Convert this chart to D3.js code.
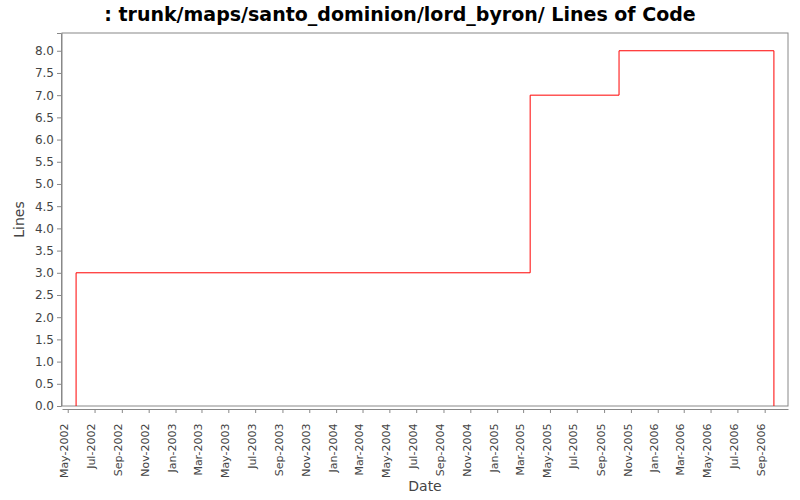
<!DOCTYPE html>
<html><head><meta charset="utf-8">
<script src="https://cdn.jsdelivr.net/npm/d3@7"></script>
<style>body{margin:0;background:#fff}text{font-family:"DejaVu Sans",sans-serif}</style>
</head><body><svg id="c" width="800" height="500"></svg>
<script>
const dates = ["2002-05-20","2005-03-17","2005-10-05","2006-09-22"];
const values = [3,7,8,0];
const yTicks = [0,0.5,1,1.5,2,2.5,3,3.5,4,4.5,5,5.5,6,6.5,7,7.5,8];
const title = ": trunk/maps/santo_dominion/lord_byron/ Lines of Code";

const svg = d3.select("#c");
const L=62,R=788,T=33,B=406;
const parse=d3.timeParse("%Y-%m-%d");
const x=d3.scaleTime().domain([parse("2002-04-18"),parse("2006-10-24")]).range([L,R]);
const y=d3.scaleLinear().domain([0,8.4]).range([B,T]);

svg.append("text").attr("x",400).attr("y",21).attr("text-anchor","middle")
 .attr("font-size",19).attr("font-weight","bold").text(title);
svg.append("rect").attr("x",L).attr("y",T).attr("width",R-L).attr("height",B-T)
 .attr("fill","#fff").attr("stroke","#888");

const ya=svg.append("g").attr("transform",`translate(${L-1},0)`)
 .call(d3.axisLeft(y).tickValues(yTicks).tickFormat(d3.format(".1f")).tickSize(4));
ya.select(".domain").attr("stroke","#888");
ya.selectAll("line").attr("stroke","#888");
ya.selectAll("text").attr("font-size",12).attr("fill","#444");

const months=d3.timeMonth.range(parse("2002-05-01"),parse("2006-10-01"),2);
const xa=svg.append("g").attr("transform",`translate(0,${B+3})`)
 .call(d3.axisBottom(x).tickValues(months).tickFormat(d3.timeFormat("%b-%Y")).tickSize(4).tickSizeOuter(0));
xa.select(".domain").attr("stroke","#888");
xa.selectAll("line").attr("stroke","#888");
xa.selectAll("text").attr("font-size",11).attr("fill","#444")
 .attr("transform","rotate(-90)").attr("text-anchor","end").attr("dx","-0.6em").attr("dy","-0.35em").attr("x",0).attr("y",0)
 .attr("transform","rotate(-90) translate(-8,4)");

svg.append("text").attr("x",(L+R)/2).attr("y",491).attr("text-anchor","middle").attr("font-size",14).attr("fill","#444").text("Date");
svg.append("text").attr("transform",`translate(24,${(T+B)/2}) rotate(-90)`).attr("text-anchor","middle").attr("font-size",14).attr("fill","#444").text("Lines");

const pts=[[parse(dates[0]),0]].concat(dates.map((d,i)=>[parse(d),values[i]]));
const line=d3.line().x(d=>x(d[0])).y(d=>y(d[1])).curve(d3.curveStepAfter);
svg.append("path").attr("d",line(pts)).attr("fill","none").attr("stroke","red").attr("stroke-width",1);
</script></body></html>
